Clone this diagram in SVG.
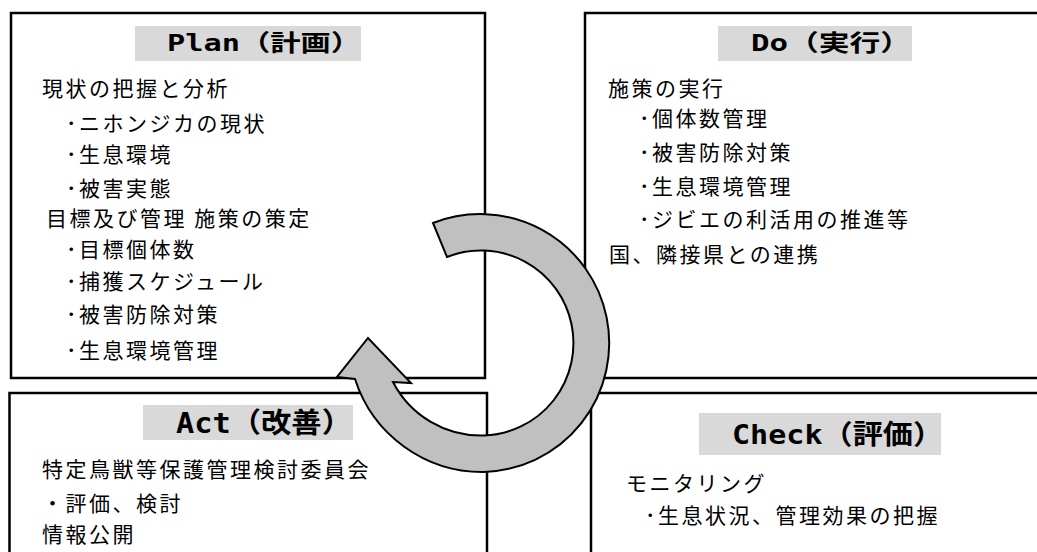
<svg xmlns="http://www.w3.org/2000/svg" width="1037" height="552" viewBox="0 0 1037 552">
<style>
.box{fill:#fff;stroke:#000;stroke-width:2.5}
.bar{fill:#d9d9d9}
.ttl{font-family:"Noto Sans CJK JP","Noto Sans",sans-serif;font-weight:bold;fill:#000}
.lat{font-family:"DejaVu Sans Mono","Liberation Mono",monospace;font-weight:bold}
.t{font-family:"Noto Sans CJK JP","Noto Sans",sans-serif;font-size:21px;letter-spacing:2.5px;fill:#000}
.arrow{fill:#c0c0c0;stroke:#000;stroke-width:2;stroke-linejoin:miter}
</style>
<rect width="1037" height="552" fill="#fff"/>
<g id="plan">
<rect class="box" x="11" y="13" width="474" height="365"/>
<rect class="bar" x="135" y="26" width="226" height="35"/>
<text class="ttl" x="167" y="51" font-size="23" textLength="194" lengthAdjust="spacingAndGlyphs"><tspan class="lat">Plan</tspan>（計画）</text>
<text class="t" x="42" y="96">現状の把握と分析</text>
<text class="t" x="66" y="131">･ニホンジカの現状</text>
<text class="t" x="66" y="162">･生息環境</text>
<text class="t" x="66" y="196">･被害実態</text>
<text class="t" x="46" y="226">目標及び管理 施策の策定</text>
<text class="t" x="66" y="257">･目標個体数</text>
<text class="t" x="66" y="289">･捕獲スケジュール</text>
<text class="t" x="66" y="322">･被害防除対策</text>
<text class="t" x="66" y="358">･生息環境管理</text>
</g>
<g id="do">
<rect class="box" x="585" y="13" width="480" height="365"/>
<rect class="bar" x="718" y="26" width="194" height="35"/>
<text class="ttl" x="751" y="51" font-size="23" textLength="160" lengthAdjust="spacingAndGlyphs"><tspan class="lat">Do</tspan>（実行）</text>
<text class="t" x="608" y="96">施策の実行</text>
<text class="t" x="639" y="126">･個体数管理</text>
<text class="t" x="639" y="160">･被害防除対策</text>
<text class="t" x="639" y="194">･生息環境管理</text>
<text class="t" x="639" y="227">･ジビエの利活用の推進等</text>
<text class="t" x="609" y="262">国、隣接県との連携</text>
</g>
<g id="act">
<rect class="box" x="9.5" y="393" width="477.5" height="200"/>
<rect class="bar" x="143" y="405" width="210" height="35"/>
<text class="ttl" x="176" y="433" font-size="28" textLength="176" lengthAdjust="spacingAndGlyphs"><tspan class="lat">Act</tspan>（改善）</text>
<text class="t" x="42" y="477">特定鳥獣等保護管理検討委員会</text>
<text class="t" x="42" y="511">・評価、検討</text>
<text class="t" x="42" y="542">情報公開</text>
</g>
<g id="check">
<rect class="box" x="591" y="393" width="480" height="200"/>
<rect class="bar" x="699" y="413" width="242" height="42"/>
<text class="ttl" x="732" y="444" font-size="27" textLength="211" lengthAdjust="spacingAndGlyphs"><tspan class="lat">Check</tspan>（評価）</text>
<text class="t" x="626" y="491">モニタリング</text>
<text class="t" x="645" y="523">･生息状況、管理効果の把握</text>
</g>
<g id="connectors">
<path class="arrow" d="M433,223 A129,129 0 1 1 484,472 A134,134 0 0 1 355,379 L337,377 L368,338 L411,383 L393,382 A99,99 0 0 0 484,435.5 A92.5,92.5 0 1 0 447,257 Z"/>
</g>
</svg>
